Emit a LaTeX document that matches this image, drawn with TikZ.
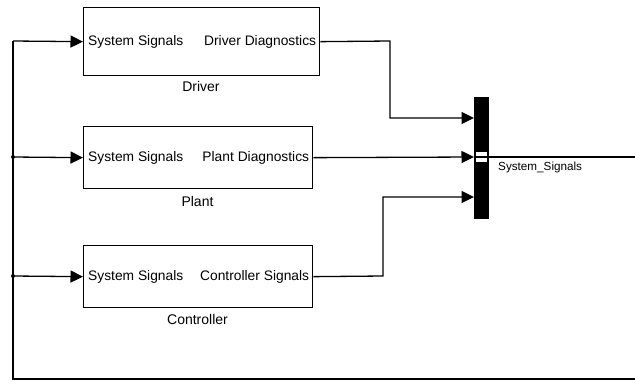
\documentclass[tikz,border=0pt]{standalone}
\usepackage{fontspec}
\setmainfont{Liberation Sans}
\usetikzlibrary{arrows.meta}
\begin{document}
\begin{tikzpicture}[x=1pt,y=1pt,
  sig/.style={line width=1.3pt},
  sigarrow/.style={line width=1.3pt,-{Triangle[length=12.5pt,width=12pt]}},
  blockbox/.style={draw,line width=1.3pt,inner sep=0pt,anchor=north west},
  port/.style={font=\fontsize{13.8}{16}\selectfont,inner sep=0pt},
  blabel/.style={font=\fontsize{14}{16}\selectfont,inner sep=0pt},
  muxbar/.style={fill=black,draw=black,inner sep=0pt,minimum width=14pt,minimum height=121pt},
  dot/.style={circle,fill=black,inner sep=0pt,minimum size=4pt}]
\useasboundingbox (0,0) rectangle (635,-381);
% blocks
\node[blockbox,minimum width=236pt,minimum height=68pt] (drv) at (83,-7) {};
\node[blockbox,minimum width=229pt,minimum height=62pt] (plt) at (83,-126) {};
\node[blockbox,minimum width=229pt,minimum height=62pt] (ctl) at (83,-245) {};
% port texts
\node[port,anchor=west] (drvin) at ([xshift=5pt]drv.west) {System Signals};
\node[port,anchor=east] (drvout) at ([xshift=-4pt]drv.east) {Driver Diagnostics};
\node[port,anchor=west] (pltin) at ([xshift=5pt]plt.west) {System Signals};
\node[port,anchor=east] (pltout) at ([xshift=-4pt]plt.east) {Plant Diagnostics};
\node[port,anchor=west] (ctlin) at ([xshift=5pt]ctl.west) {System Signals};
\node[port,anchor=east] (ctlout) at ([xshift=-4pt]ctl.east) {Controller Signals};
% block labels
\node[blabel] (drvlab) at (201,-86) {Driver};
\node[blabel] (pltlab) at (197.5,-201) {Plant};
\node[blabel] (ctllab) at (197.5,-319) {Controller};
% mux
\node[muxbar] (mux) at (481,-157.5) {};
\coordinate (m1) at (474,-118);
\coordinate (m2) at (474,-157);
\coordinate (m3) at (474,-197);
\coordinate (mout) at (488,-157);
\node[fill=white,inner sep=0pt,minimum width=11pt,minimum height=10pt] (eq) at (481,-157) {};
\draw[line width=1.6pt] ([yshift=0pt]eq.west) -- ([yshift=0pt]eq.east);
\draw[line width=1pt] ([yshift=-4.5pt]eq.north west) -- ([yshift=-4.5pt]eq.north east);
\draw[line width=1pt] ([yshift=4.5pt]eq.south west) -- ([yshift=4.5pt]eq.south east);
\node[font=\fontsize{11.7}{14}\selectfont,inner sep=0pt,anchor=west] (siglab) at (498,-167) {System\_Signals};
% connectors to mux
\draw[sigarrow] (drv.east) -- (390,-41) |- (m1);
\draw[sigarrow] (plt.east) -- (m2);
\draw[sigarrow] (ctl.east) -- (383,-276) |- (m3);
% output and feedback
\coordinate (rightend) at (636,-157);
\coordinate (rightbot) at (636,-379);
\coordinate (lbot) at (13,-379);
\coordinate (ltop) at (13,-41);
\node[dot] (j1) at (13,-157) {};
\node[dot] (j2) at (13,-276) {};
\draw[sig] (mout) -- (rightend);
\draw[sig] (rightbot) -- (lbot) -- (ltop);
\draw[sigarrow] (ltop) -- (drv.west);
\draw[sigarrow] (j1.center) -- (plt.west);
\draw[sigarrow] (j2.center) -- (ctl.west);
\end{tikzpicture}
\end{document}
